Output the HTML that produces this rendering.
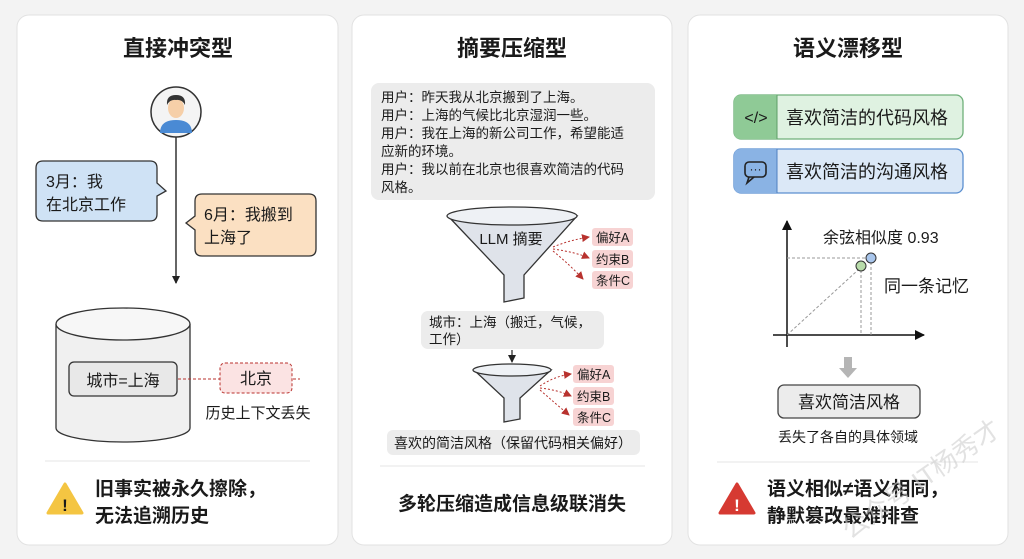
<!DOCTYPE html>
<html><head><meta charset="utf-8"><style>
html,body{margin:0;padding:0;background:#f3f3f3;}
svg{display:block;}
text{font-family:"Liberation Sans","Noto Sans CJK SC",sans-serif;fill:#1a1a1a;}
</style></head><body>
<svg width="1024" height="559" viewBox="0 0 1024 559" xmlns="http://www.w3.org/2000/svg">
<defs>
<marker id="ab" markerWidth="8" markerHeight="8" refX="7" refY="4" orient="auto" markerUnits="userSpaceOnUse"><path d="M0,0 L8,4 L0,8 z" fill="#222"/></marker>
<marker id="ar" markerWidth="8" markerHeight="8" refX="7" refY="4" orient="auto" markerUnits="userSpaceOnUse"><path d="M0,0 L8,4 L0,8 z" fill="#b8322e"/></marker>
<marker id="ak" markerWidth="10" markerHeight="10" refX="9" refY="5" orient="auto" markerUnits="userSpaceOnUse"><path d="M0,0 L10,5 L0,10 z" fill="#111"/></marker>
</defs>
<rect width="1024" height="559" fill="#f3f3f3"/>
<!-- panels -->
<rect x="17" y="15" width="321" height="530" rx="12" fill="#fff" stroke="#e2e2e2"/>
<rect x="352" y="15" width="320" height="530" rx="12" fill="#fff" stroke="#e2e2e2"/>
<rect x="688" y="15" width="320" height="530" rx="12" fill="#fff" stroke="#e2e2e2"/>

<!-- LEFT -->
<text x="178" y="56" font-size="22" font-weight="bold" text-anchor="middle">直接冲突型</text>
<circle cx="176" cy="112" r="25" fill="#f4f4f4" stroke="#333" stroke-width="1.5"/>
<path d="M160,133 Q160,120 176,120 Q192,120 192,133 Z" fill="#4a8ad4"/>
<ellipse cx="176" cy="108" rx="8" ry="10" fill="#f6cfa8"/>
<path d="M167,105 Q166,95 176,95 Q186,95 185,105 Q182,99 176,100 Q170,99 167,105Z" fill="#333"/>
<line x1="176" y1="137" x2="176" y2="283" stroke="#333" stroke-width="1.5" marker-end="url(#ab)"/>
<path d="M43,161 H150 Q157,161 157,168 V183 L166,191 L157,196 V214 Q157,221 150,221 H43 Q36,221 36,214 V168 Q36,161 43,161Z" fill="#cfe2f5" stroke="#333" stroke-width="1.3"/>
<text x="46" y="187" font-size="16">3月：我</text>
<text x="46" y="210" font-size="16">在北京工作</text>
<path d="M202,194 H309 Q316,194 316,201 V249 Q316,256 309,256 H202 Q195,256 195,249 V230 L186,223 L195,216 V201 Q195,194 202,194Z" fill="#fbe0c2" stroke="#333" stroke-width="1.3"/>
<text x="204" y="220" font-size="16">6月：我搬到</text>
<text x="204" y="243" font-size="16">上海了</text>
<path d="M56,324 V428 A67,14 0 0 0 190,428 V324" fill="#f0f0f0" stroke="#333" stroke-width="1.3"/>
<ellipse cx="123" cy="324" rx="67" ry="16" fill="#f7f7f7" stroke="#333" stroke-width="1.3"/>
<rect x="69" y="362" width="108" height="34" rx="5" fill="#e8e8e8" stroke="#333" stroke-width="1.3"/>
<text x="123" y="386" font-size="16" text-anchor="middle">城市=上海</text>
<line x1="178" y1="379" x2="300" y2="379" stroke="#b8322e" stroke-width="1" stroke-dasharray="3,2"/>
<rect x="220" y="363" width="72" height="30" rx="5" fill="#fbe3e3" stroke="#b8322e" stroke-width="1" stroke-dasharray="3,2"/>
<text x="256" y="384" font-size="16" text-anchor="middle">北京</text>
<text x="258" y="418" font-size="15" text-anchor="middle">历史上下文丢失</text>
<line x1="45" y1="461" x2="310" y2="461" stroke="#e4e4e4"/>
<path d="M65,484 L82,513 H48 Z" fill="#f4c542" stroke="#f4c542" stroke-width="3" stroke-linejoin="round"/>
<text x="65" y="511" font-size="17" font-weight="bold" text-anchor="middle">!</text>
<text x="95" y="495" font-size="19" font-weight="bold">旧事实被永久擦除，</text>
<text x="95" y="522" font-size="19" font-weight="bold">无法追溯历史</text>

<!-- MIDDLE -->
<text x="512" y="56" font-size="22" font-weight="bold" text-anchor="middle">摘要压缩型</text>
<rect x="371" y="83" width="284" height="117" rx="8" fill="#ececec"/>
<g font-size="13.5">
<text x="381" y="102">用户：昨天我从北京搬到了上海。</text>
<text x="381" y="120">用户：上海的气候比北京湿润一些。</text>
<text x="381" y="138">用户：我在上海的新公司工作，希望能适</text>
<text x="381" y="156">应新的环境。</text>
<text x="381" y="174">用户：我以前在北京也很喜欢简洁的代码</text>
<text x="381" y="192">风格。</text>
</g>
<path d="M448,216 L504,275 V302 L524,298 V275 L577,216 Z" fill="#dfe3ea" stroke="#333" stroke-width="1.3"/>
<ellipse cx="512" cy="216" rx="65" ry="9" fill="#eef1f5" stroke="#333" stroke-width="1.3"/>
<text x="511" y="244" font-size="15" text-anchor="middle">LLM 摘要</text>
<g stroke="#b8322e" stroke-width="1" stroke-dasharray="2,2" fill="none">
<path d="M553,247 Q570,240 589,237" marker-end="url(#ar)"/>
<path d="M553,249 Q575,252 589,258" marker-end="url(#ar)"/>
<path d="M553,251 Q570,265 583,279" marker-end="url(#ar)"/>
</g>
<g font-size="12.5">
<rect x="592" y="228" width="41" height="18" rx="3" fill="#f7d3d3"/><text x="596" y="242">偏好A</text>
<rect x="592" y="250" width="41" height="18" rx="3" fill="#f7d3d3"/><text x="596" y="264">约束B</text>
<rect x="592" y="271" width="41" height="18" rx="3" fill="#f7d3d3"/><text x="596" y="285">条件C</text>
</g>
<rect x="421" y="311" width="183" height="38" rx="7" fill="#ececec"/>
<text x="429" y="327" font-size="13.5">城市：上海（搬迁，气候，</text>
<text x="429" y="344" font-size="13.5">工作）</text>
<line x1="512" y1="350" x2="512" y2="362" stroke="#222" stroke-width="1.2" marker-end="url(#ab)"/>
<path d="M474,370 L504,398 V422 L520,419 V398 L551,370 Z" fill="#dfe3ea" stroke="#333" stroke-width="1.3"/>
<ellipse cx="512" cy="370" rx="39" ry="6" fill="#eef1f5" stroke="#333" stroke-width="1.3"/>
<g stroke="#b8322e" stroke-width="1" stroke-dasharray="2,2" fill="none">
<path d="M540,386 Q555,376 571,374" marker-end="url(#ar)"/>
<path d="M540,388 Q558,390 571,396" marker-end="url(#ar)"/>
<path d="M540,390 Q556,404 569,415" marker-end="url(#ar)"/>
</g>
<g font-size="12.5">
<rect x="573" y="365" width="41" height="18" rx="3" fill="#f7d3d3"/><text x="577" y="379">偏好A</text>
<rect x="573" y="387" width="41" height="18" rx="3" fill="#f7d3d3"/><text x="577" y="401">约束B</text>
<rect x="573" y="408" width="41" height="18" rx="3" fill="#f7d3d3"/><text x="577" y="422">条件C</text>
</g>
<rect x="387" y="430" width="253" height="25" rx="6" fill="#ececec"/>
<text x="513" y="448" font-size="14" text-anchor="middle">喜欢的简洁风格（保留代码相关偏好）</text>
<line x1="380" y1="466" x2="645" y2="466" stroke="#e4e4e4"/>
<text x="512" y="510" font-size="19" font-weight="bold" text-anchor="middle">多轮压缩造成信息级联消失</text>

<!-- RIGHT -->
<text x="848" y="56" font-size="22" font-weight="bold" text-anchor="middle">语义漂移型</text>
<rect x="734" y="95" width="229" height="44" rx="7" fill="#dff2e1" stroke="#6fb07a" stroke-width="1.3"/>
<path d="M741,95 H777 V139 H741 Q734,139 734,132 V102 Q734,95 741,95Z" fill="#8fca96"/>
<line x1="777" y1="95" x2="777" y2="139" stroke="#5d9d67"/>
<text x="756" y="123" font-size="16" text-anchor="middle">&lt;/&gt;</text>
<text x="786" y="124" font-size="18">喜欢简洁的代码风格</text>
<rect x="734" y="149" width="229" height="44" rx="7" fill="#dbe8f7" stroke="#5b8fd0" stroke-width="1.3"/>
<path d="M741,149 H777 V193 H741 Q734,193 734,186 V156 Q734,149 741,149Z" fill="#8ab3e4"/>
<line x1="777" y1="149" x2="777" y2="193" stroke="#4d7fc0"/>
<rect x="745" y="162" width="21" height="15" rx="4" fill="none" stroke="#222" stroke-width="1.6"/>
<path d="M749,177 L747,183 L754,177" fill="none" stroke="#222" stroke-width="1.6"/>
<text x="755.5" y="173" font-size="12" text-anchor="middle">···</text>
<text x="786" y="178" font-size="18">喜欢简洁的沟通风格</text>
<line x1="787" y1="347" x2="787" y2="221" stroke="#111" stroke-width="1.5" marker-end="url(#ak)"/>
<line x1="773" y1="335" x2="924" y2="335" stroke="#111" stroke-width="1.5" marker-end="url(#ak)"/>
<g stroke="#999" stroke-width="1" stroke-dasharray="3,2" fill="none">
<line x1="787" y1="258" x2="868" y2="258"/>
<line x1="861" y1="270" x2="861" y2="335"/>
<line x1="871" y1="262" x2="871" y2="335"/>
<line x1="787" y1="335" x2="858" y2="270"/>
</g>
<circle cx="871" cy="258" r="5" fill="#a9c6ec" stroke="#333"/>
<circle cx="861" cy="266" r="5" fill="#b8dcaa" stroke="#333"/>
<text x="823" y="243" font-size="16">余弦相似度 0.93</text>
<text x="884" y="292" font-size="17">同一条记忆</text>
<path d="M844,357 H852 V368 H857 L848,378 L839,368 H844Z" fill="#b5b5b5"/>
<rect x="778" y="385" width="142" height="33" rx="6" fill="#ececec" stroke="#444" stroke-width="1.3"/>
<text x="849" y="408" font-size="17" text-anchor="middle">喜欢简洁风格</text>
<text x="848" y="442" font-size="14" text-anchor="middle">丢失了各自的具体领域</text>
<line x1="717" y1="462" x2="978" y2="462" stroke="#e4e4e4"/>
<path d="M737,484 L754,513 H720 Z" fill="#d63a32" stroke="#d63a32" stroke-width="3" stroke-linejoin="round"/>
<text x="737" y="511" font-size="17" font-weight="bold" text-anchor="middle" fill="#fff" style="fill:#fff">!</text>
<text x="767" y="495" font-size="19" font-weight="bold">语义相似≠语义相同，</text>
<text x="767" y="522" font-size="19" font-weight="bold">静默篡改最难排查</text>
<text x="850" y="540" font-size="26" fill="#ccc" style="fill:#d0d0d0" opacity="0.6" transform="rotate(-35 850 540)">公众号 IT杨秀才</text>
</svg>
</body></html>
